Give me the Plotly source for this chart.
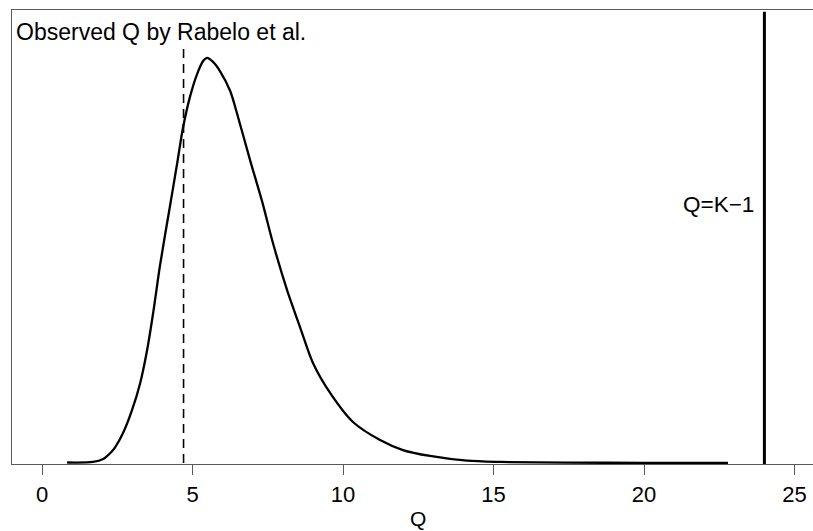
import plotly.graph_objects as go

# Density curve
q_vals = [0.83, 1.69, 2.03, 2.30, 2.43, 2.69, 2.99, 3.26, 3.49, 3.69, 3.92, 4.25, 4.49,
          4.68, 4.92, 5.15, 5.35, 5.48, 5.68, 5.91, 6.25, 6.51, 6.91, 7.31, 7.67, 8.14,
          8.57, 9.00, 9.57, 10.33, 11.23, 11.99, 12.89, 14.12, 15.22, 17.44, 20.0, 22.79]
density = [0.0003, 0.0006, 0.0023, 0.0063, 0.0091, 0.0171, 0.0303, 0.0457, 0.0645,
           0.0856, 0.1130, 0.1467, 0.1712, 0.1912, 0.2094, 0.2220, 0.2295, 0.2312,
           0.2289, 0.2237, 0.2123, 0.1975, 0.1729, 0.1493, 0.1256, 0.0987, 0.0776,
           0.0571, 0.0400, 0.0234, 0.0131, 0.0074, 0.0040, 0.0013, 0.0006, 0.0002,
           0.0001, 0.0]

observed_q = 4.7
observed_top = 0.239
k_minus_1 = 24
x_ticks = [0, 5, 10, 15, 20, 25]
x_tick_labels = ["0", "5", "10", "15", "20", "25"]

FONT = "Liberation Sans, Arial, sans-serif"
AXC = "#5a5a5a"

fig = go.Figure()
fig.add_trace(go.Scatter(x=q_vals, y=density, mode="lines",
                         line=dict(color="black", width=2.3, shape="spline", smoothing=0.8),
                         showlegend=False, hoverinfo="skip"))
# dashed observed line
fig.add_trace(go.Scatter(x=[observed_q, observed_q], y=[0, observed_top], mode="lines",
                         line=dict(color="black", width=1.6, dash="9px,6px"),
                         showlegend=False, hoverinfo="skip"))
# solid Q=K-1 line
fig.add_shape(type="line", xref="x", yref="paper", x0=k_minus_1, x1=k_minus_1, y0=0, y1=0.996,
              line=dict(color="black", width=3))

fig.add_annotation(x=-0.93, y=0.246, xref="x", yref="y", text="Observed Q by Rabelo et al.",
                   showarrow=False, xanchor="left", yanchor="middle",
                   font=dict(family=FONT, size=23, color="black"))
fig.add_annotation(x=23.72, y=0.1473, xref="x", yref="y", text="Q=K\u22121",
                   showarrow=False, xanchor="right", yanchor="middle",
                   font=dict(family=FONT, size=22.5, color="black"))
fig.add_annotation(x=12.5, y=-0.121, xref="x", yref="paper", text="Q",
                   showarrow=False, xanchor="center", yanchor="middle", borderpad=0,
                   font=dict(family=FONT, size=21, color="black"))

fig.update_layout(
    width=813, height=531,
    margin=dict(l=12, r=0, t=10, b=67),
    paper_bgcolor="white", plot_bgcolor="white",
    font=dict(family=FONT, size=21, color="black"),
    xaxis=dict(range=[-1.0, 25.615], tickvals=x_ticks, ticktext=x_tick_labels,
               ticks="outside", ticklen=10, tickwidth=1, tickcolor=AXC,
               showline=True, linecolor=AXC, linewidth=1.2, mirror=True,
               showgrid=False, zeroline=False,
               tickfont=dict(family=FONT, size=22, color="black")),
    yaxis=dict(range=[-0.00057, 0.25856], showticklabels=False, ticks="",
               showline=True, linecolor=AXC, linewidth=1.2,
               showgrid=False, zeroline=False),
)

fig.write_html("out.html")
